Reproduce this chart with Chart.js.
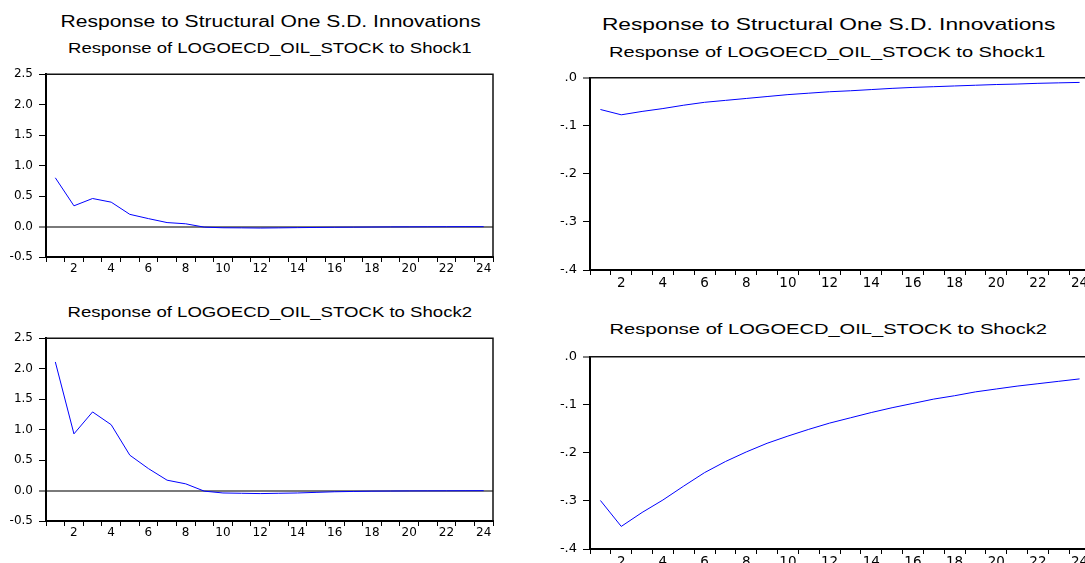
<!DOCTYPE html>
<html>
<head>
<meta charset="utf-8">
<title>Response to Structural One S.D. Innovations</title>
<script src="https://cdn.jsdelivr.net/npm/chart.js@4.4.1/dist/chart.umd.min.js"></script>
<style>
html, body { margin: 0; padding: 0; background: #fff; overflow: hidden; }
body { width: 1085px; height: 563px; position: relative; }
.box { position: absolute; }
.txt { position: absolute; white-space: nowrap; font-family: Arial, "Liberation Sans", sans-serif; color: #000; line-height: 1; transform-origin: 50% 50%; }
</style>
</head>
<body>
<script>
// impulse responses, periods 1..24
var periods = [1, 2, 3, 4, 5, 6, 7, 8, 9, 10, 11, 12, 13, 14, 15, 16, 17, 18, 19, 20, 21, 22, 23, 24];
var xLabels = ["", "2", "", "4", "", "6", "", "8", "", "10", "", "12", "", "14", "", "16", "", "18", "", "20", "", "22", "", "24"];

var leftShock1 = [0.80, 0.34, 0.46, 0.40, 0.20, 0.13, 0.065, 0.045, -0.01, -0.02, -0.022, -0.025, -0.022, -0.018, -0.015, -0.012, -0.01, -0.008, -0.006, -0.005, -0.004, -0.003, -0.002, -0.002];
var leftShock2 = [2.11, 0.93, 1.29, 1.08, 0.58, 0.36, 0.17, 0.11, -0.01, -0.04, -0.045, -0.05, -0.045, -0.04, -0.03, -0.02, -0.015, -0.01, -0.008, -0.006, -0.005, -0.004, -0.003, -0.002];
var rightShock1 = [-0.066, -0.077, -0.070, -0.064, -0.057, -0.051, -0.047, -0.043, -0.039, -0.035, -0.032, -0.029, -0.027, -0.0245, -0.022, -0.020, -0.0185, -0.017, -0.0155, -0.014, -0.013, -0.0115, -0.0105, -0.0096];
var rightShock2 = [-0.299, -0.353, -0.324, -0.298, -0.269, -0.241, -0.218, -0.198, -0.180, -0.165, -0.151, -0.138, -0.127, -0.116, -0.106, -0.097, -0.088, -0.081, -0.073, -0.067, -0.061, -0.056, -0.051, -0.046];

var yTicksLeft = [-0.5, 0, 0.5, 1.0, 1.5, 2.0, 2.5];
var yTicksRight = [-0.4, -0.3, -0.2, -0.1, 0];

var mainTitle = "Response to Structural One S.D. Innovations";
var subTitle1 = "Response of LOGOECD_OIL_STOCK to Shock1";
var subTitle2 = "Response of LOGOECD_OIL_STOCK to Shock2";

function addText(text, cx, capMid, size, width) {
	var el = document.createElement("div");
	el.className = "txt";
	el.style.fontSize = size + "px";
	el.textContent = text;
	document.body.appendChild(el);
	var w = el.offsetWidth;
	el.style.left = (cx - w / 2) + "px";
	el.style.top = (capMid - 0.49 * size) + "px";
	el.style.transform = "scaleX(" + (width / w) + ")";
}

var frame = {
	id: "frame",
	afterDatasetsDraw: function (chart) {
		var a = chart.chartArea, ctx = chart.ctx;
		ctx.save();
		ctx.strokeStyle = "#111";
		ctx.lineWidth = 1.5;
		ctx.beginPath();
		ctx.moveTo(a.left, a.top);
		ctx.lineTo(a.right, a.top);
		ctx.lineTo(a.right, a.bottom);
		ctx.stroke();
		ctx.restore();
	}
};

function fmtLeft(v) {
	return v.toFixed(1);
}
function fmtRight(v) {
	return v.toFixed(1).replace("0.", ".");
}

function panel(left, top, width, height, values, yTicks, fmt, zeroLine, xFont, yFont) {
	var box = document.createElement("div"),
		canvas = document.createElement("canvas");
	box.className = "box";
	box.style.left = left + "px";
	box.style.top = top + "px";
	box.style.width = width + "px";
	box.style.height = height + "px";
	box.appendChild(canvas);
	document.body.appendChild(box);

	new Chart(canvas, {
		type: "line",
		data: {
			labels: periods,
			datasets: [{data: values, borderColor: "#0000ff", borderWidth: 1, pointRadius: 0, tension: 0, fill: false}]
		},
		options: {
			responsive: true,
			maintainAspectRatio: false,
			animation: false,
			layout: {padding: {top: 10, right: 4, left: 0, bottom: 0}},
			plugins: {legend: {display: false}, tooltip: {enabled: false}},
			scales: {
				x: {
					offset: true,
					grid: {offset: true, drawOnChartArea: false, tickLength: 5, tickColor: "#000", tickWidth: 1},
					border: {color: "#000", width: 2},
					ticks: {
						autoSkip: false, maxRotation: 0, padding: 0, color: "#000",
						font: {family: "DejaVu Sans", size: xFont},
						callback: function (v, i) { return xLabels[i]; }
					},
					afterFit: function (s) { s.height = 24; }
				},
				y: {
					min: yTicks[0],
					max: yTicks[yTicks.length - 1],
					afterBuildTicks: function (s) {
						s.ticks = yTicks.map(function (v) { return {value: v}; });
					},
					grid: {
						drawOnChartArea: zeroLine,
						color: function (c) { return c.tick && c.tick.value === 0 ? "#7a7a7a" : "rgba(0,0,0,0)"; },
						lineWidth: function (c) { return c.tick && c.tick.value === 0 ? 2 : 1; },
						tickLength: 7, tickColor: "#000", tickWidth: 1
					},
					border: {color: "#000", width: 2},
					ticks: {padding: 6, color: "#000", font: {family: "DejaVu Sans", size: yFont}, callback: fmt},
					afterFit: function (s) { s.width = 46; }
				}
			}
		},
		plugins: [frame]
	});
}

addText(mainTitle, 270, 21.7, 16, 420);
addText(subTitle1, 270, 48.3, 14.5, 404);
addText(subTitle2, 270, 312, 14.5, 405);
addText(mainTitle, 828, 23.7, 16.5, 453);
addText(subTitle1, 827, 51, 15, 437);
addText(subTitle2, 828, 328.7, 15, 438);

panel(0, 61, 497, 220, leftShock1, yTicksLeft, fmtLeft, true, 12, 12);
panel(0, 325, 497, 220, leftShock2, yTicksLeft, fmtLeft, true, 12, 12);
panel(544, 64, 550, 230, rightShock1, yTicksRight, fmtRight, false, 13.5, 13);
panel(544, 343, 550, 230, rightShock2, yTicksRight, fmtRight, false, 13.5, 13);
</script>
</body>
</html>
